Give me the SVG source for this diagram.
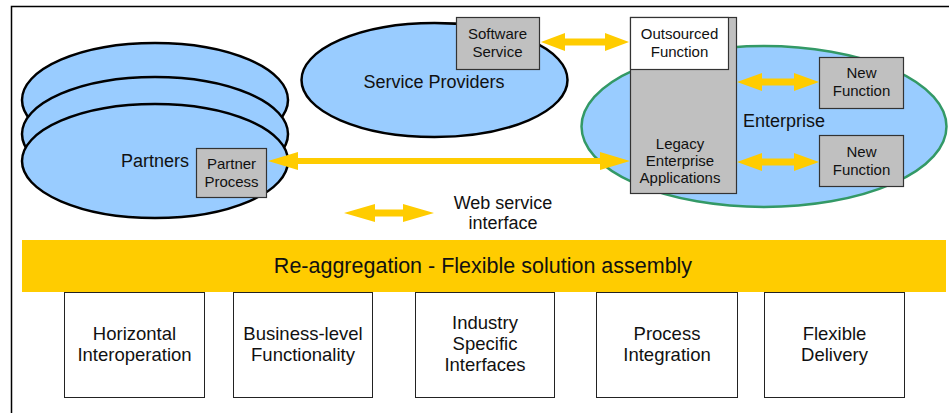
<svg xmlns="http://www.w3.org/2000/svg" width="949" height="413" viewBox="0 0 949 413">
  <defs>
    <style>
      .lbl { font-family: "Liberation Sans", Arial, sans-serif; fill: #111; text-anchor: middle; }
      .big { font-size: 18px; }
      .box { font-size: 18.5px; }
      .sm { font-size: 15px; }
      .cloud { fill: #99ccff; stroke: #000; stroke-width: 2.5; }
      .ent { fill: #99ccff; stroke: #339966; stroke-width: 2.5; }
      .proc { fill: #c0c0c0; stroke: #333; stroke-width: 1.2; }
      .white { fill: #fff; stroke: #333; stroke-width: 1.2; }
      .cap { fill: #fff; stroke: #222; stroke-width: 1; }
      .arrow { fill: #ffcc00; stroke: none; }
    </style>
  </defs>
  <rect width="949" height="413" fill="#fff"/>
  <!-- page frame -->
  <path d="M11.5,413 V6.5 H949" fill="none" stroke="#000" stroke-width="1.5"/>

  <g id="partners">
    <ellipse class="cloud" cx="155" cy="100" rx="133" ry="57"/>
    <ellipse class="cloud" cx="155" cy="134" rx="133" ry="57"/>
    <ellipse class="cloud" cx="155" cy="161" rx="133" ry="57"/>
    <text class="lbl big" x="155" y="167">Partners</text>
  </g>
  <g id="partner-process">
    <rect class="proc" x="196.5" y="148.5" width="70" height="49"/>
    <text class="lbl sm" x="231.5" y="169">Partner</text>
    <text class="lbl sm" x="231.5" y="187">Process</text>
  </g>

  <g id="service-providers">
    <ellipse class="cloud" cx="434.5" cy="80" rx="133" ry="57"/>
    <text class="lbl big" x="434" y="88">Service Providers</text>
  </g>
  <g id="software-service">
    <rect class="proc" x="456.5" y="17.5" width="83" height="52"/>
    <text class="lbl sm" x="497.5" y="39">Software</text>
    <text class="lbl sm" x="497.5" y="57">Service</text>
  </g>

  <g id="enterprise">
    <ellipse class="ent" cx="764" cy="126.5" rx="182.5" ry="80.5"/>
    <text class="lbl big" x="784" y="127">Enterprise</text>
  </g>
  <g id="legacy-applications">
    <rect class="proc" x="630.5" y="17.5" width="106" height="176"/>
    <text class="lbl sm" x="680" y="149">Legacy</text>
    <text class="lbl sm" x="680" y="166">Enterprise</text>
    <text class="lbl sm" x="680" y="183">Applications</text>
  </g>
  <g id="outsourced-function">
    <rect class="white" x="630.5" y="17.5" width="98" height="52"/>
    <text class="lbl sm" x="679.5" y="39">Outsourced</text>
    <text class="lbl sm" x="679.5" y="57">Function</text>
  </g>
  <g id="new-function-1">
    <rect class="proc" x="819.5" y="57.5" width="84" height="51"/>
    <text class="lbl sm" x="861.5" y="78">New</text>
    <text class="lbl sm" x="861.5" y="96">Function</text>
  </g>
  <g id="new-function-2">
    <rect class="proc" x="819.5" y="135.5" width="84" height="51"/>
    <text class="lbl sm" x="861.5" y="157">New</text>
    <text class="lbl sm" x="861.5" y="175">Function</text>
  </g>

  <!-- web service interface connectors -->
  <g id="connectors">
    <!-- software service to outsourced function -->
    <polygon class="arrow" points="541,42 565,33 565,38.5 605,38.5 605,33 629,42 605,51 605,45.5 565,45.5 565,51"/>
    <!-- legacy to new functions -->
    <polygon class="arrow" points="737,82 762,73 762,78.5 794,78.5 794,73 819,82 794,91 794,85.5 762,85.5 762,91"/>
    <polygon class="arrow" points="737,162 762,153 762,158.5 794,158.5 794,153 819,162 794,171 794,165.5 762,165.5 762,171"/>
    <!-- partner process to legacy -->
    <polygon class="arrow" points="268,161 298,152 298,158 600,158 600,152 630,161 600,170 600,164 298,164 298,170"/>
  </g>

  <g id="legend">
    <polygon class="arrow" points="344,213 375,204 375,209.5 403,209.5 403,204 434,213 403,222 403,216.5 375,216.5 375,222"/>
    <text class="lbl big" x="503" y="209">Web service</text>
    <text class="lbl big" x="503" y="229">interface</text>
  </g>

  <g id="re-aggregation">
    <rect x="22" y="240" width="924" height="52" fill="#ffcc00"/>
    <text class="lbl" x="483" y="273" font-size="21.5">Re-aggregation - Flexible solution assembly</text>
  </g>

  <g id="horizontal-interoperation">
    <rect class="cap" x="64.5" y="292.5" width="140" height="105"/>
    <text class="lbl box" x="134.5" y="340">Horizontal</text>
    <text class="lbl box" x="134.5" y="361">Interoperation</text>
  </g>
  <g id="business-functionality">
    <rect class="cap" x="233.5" y="292.5" width="139" height="105"/>
    <text class="lbl box" x="303" y="340">Business-level</text>
    <text class="lbl box" x="303" y="361">Functionality</text>
  </g>
  <g id="industry-interfaces">
    <rect class="cap" x="415.5" y="292.5" width="139" height="105"/>
    <text class="lbl box" x="485" y="329">Industry</text>
    <text class="lbl box" x="485" y="350">Specific</text>
    <text class="lbl box" x="485" y="371">Interfaces</text>
  </g>
  <g id="process-integration">
    <rect class="cap" x="596.5" y="292.5" width="141" height="105"/>
    <text class="lbl box" x="667" y="340">Process</text>
    <text class="lbl box" x="667" y="361">Integration</text>
  </g>
  <g id="flexible-delivery">
    <rect class="cap" x="764.5" y="292.5" width="140" height="105"/>
    <text class="lbl box" x="834.5" y="340">Flexible</text>
    <text class="lbl box" x="834.5" y="361">Delivery</text>
  </g>
</svg>
